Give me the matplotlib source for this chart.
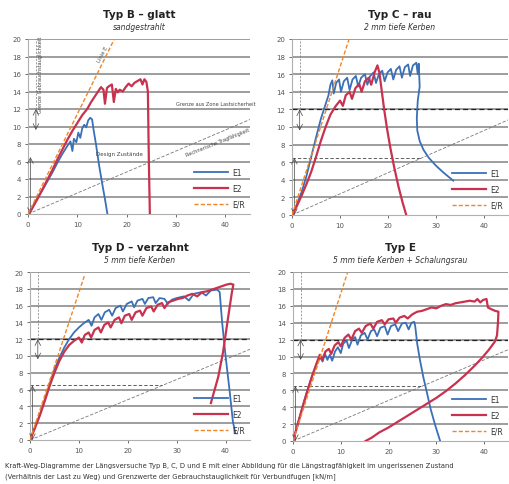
import matplotlib
matplotlib.use("Agg")
import matplotlib.pyplot as plt
import numpy as np

# ---------------- data ----------------
x_ticks = [0, 10, 20, 30, 40]
y_ticks = [0, 2, 4, 6, 8, 10, 12, 14, 16, 18, 20]
series_labels = ["E1", "E2", "E/R"]

titles = ["Typ B \u2013 glatt", "Typ C \u2013 rau", "Typ D \u2013 verzahnt", "Typ E"]
subtitles = ["sandgestrahlt", "2 mm tiefe Kerben", "5 mm tiefe Kerben",
             "5 mm tiefe Kerben + Schalungsrau"]

# Typ B
b_e1_x = [0, 1, 2, 3, 4, 5, 6, 7, 8, 8.6, 9, 9.3, 9.8, 10.2, 10.6, 11, 11.4, 11.8, 12.2, 12.6, 13, 13.3, 13.8, 14.4, 15, 15.6, 16.1]
b_e1_y = [0, 0.9, 1.9, 2.8, 3.8, 4.8, 5.9, 6.9, 7.8, 8.3, 7.2, 8.6, 8.2, 9.3, 8.7, 9.8, 10.2, 9.9, 10.7, 11.0, 10.8, 9.6, 7.9, 5.6, 3.6, 1.7, 0]
b_e2_x = [0, 1, 2, 3, 4, 5, 6, 7, 8, 9, 10, 11, 12, 12.8, 13.5, 14.2, 14.8, 15.3, 15.6, 16.0, 16.4, 17.0, 17.4, 17.8, 18.2, 18.6, 19.2, 19.8, 20.4, 21.0, 21.6, 22.2, 22.8, 23.2, 23.6, 24.0, 24.3, 24.5, 24.7]
b_e2_y = [0, 0.8, 1.8, 2.9, 4.0, 5.1, 6.3, 7.4, 8.5, 9.5, 10.4, 11.3, 12.0, 12.8, 13.4, 14.0, 14.5, 14.2, 12.6, 14.4, 14.6, 14.8, 12.8, 14.3, 13.9, 14.2, 14.0, 14.5, 14.9, 14.6, 15.0, 15.2, 15.4, 14.8, 15.4, 15.1, 14.0, 6.0, 0]
b_er_x = [0, 17.5]
b_er_y = [0, 20]

# Typ C
c_e1_x = [0, 1, 2, 3, 4, 5, 6, 7, 7.6, 8.0, 8.4, 8.7, 9.2, 9.8, 10.2, 10.8, 11.5, 12.0, 12.6, 13.3, 13.8, 14.4, 15.2, 15.7, 16.3, 17.0, 17.5, 18.1, 18.8, 19.3, 19.9, 20.6, 21.1, 21.7, 22.4, 22.9, 23.5, 24.2, 24.6, 25.2, 25.9, 26.2, 26.4, 26.6, 26.2, 26.0, 26.1, 26.6, 27.4, 28.5, 30.0, 31.6, 33.6]
c_e1_y = [0, 1.2, 2.6, 4.4, 6.6, 8.8, 10.9, 12.6, 13.6, 14.8, 15.3, 13.8, 15.0, 15.4, 14.0, 15.2, 15.6, 14.2, 15.4, 15.8, 14.6, 15.6, 16.0, 14.8, 15.8, 16.2, 15.0, 16.0, 16.4, 15.2, 16.2, 16.6, 15.4, 16.5, 16.9, 15.6, 16.8, 17.1, 15.8, 17.0, 17.3, 16.0, 17.2, 14.6, 13.0, 11.0, 9.6, 8.4, 7.4, 6.5, 5.6, 4.8, 3.9]
c_e2_x = [0, 1, 2, 3, 4, 5, 6, 7, 8, 9, 10, 10.6, 11.2, 12, 12.5, 13.2, 14, 14.5, 15.2, 16, 16.5, 17.2, 17.8, 18.2, 18.6, 19.2, 19.8, 20.5, 21.3, 22.2, 23.0, 23.8]
c_e2_y = [0, 1.0, 2.2, 3.5, 4.9, 6.6, 8.4, 10.0, 11.4, 12.3, 13.0, 12.4, 13.6, 14.0, 13.2, 14.4, 14.9, 14.0, 15.2, 15.6, 14.8, 16.2, 17.0, 16.2, 14.5, 12.0, 9.8, 7.6, 5.4, 3.2, 1.5, 0]
c_er_x = [0, 11.9]
c_er_y = [0, 20]

# Typ D
d_e1_x = [0, 1, 2, 3, 4, 5, 6, 7, 8, 9, 10, 11, 12, 12.6, 13.2, 14, 14.6, 15.3, 16.2, 16.8, 17.5, 18.5, 19.0, 19.8, 20.8, 21.3, 22.0, 23.0, 23.5, 24.2, 25.2, 25.7, 26.5, 27.5, 28.2, 29.0, 30.0, 31.5, 32.5, 33.5, 35, 36, 37, 38.3, 38.8, 39.3, 40, 40.8, 41.5, 42.0]
d_e1_y = [0, 1.5, 3.0, 4.8, 6.6, 8.4, 9.8, 11.0, 12.0, 12.8, 13.4, 13.9, 14.3, 13.6, 14.6, 15.0, 14.3, 15.2, 15.5, 14.8, 15.7, 16.0, 15.3, 16.2, 16.5, 15.8, 16.6, 16.8, 16.2, 16.9, 17.0, 16.3, 16.9, 16.8, 16.2, 16.7, 16.9, 17.1, 16.6, 17.4, 17.6, 17.2, 17.8, 17.9, 17.6, 14.0, 10.0, 6.0, 2.2, 0.8]
d_e2_x = [0, 1, 2, 3, 4, 5, 6, 7, 8, 9, 10, 10.6, 11.2, 12, 12.5, 13.2, 14, 14.5, 15.2, 16, 16.5, 17.3, 18.2, 18.7, 19.4, 20.3, 20.8, 21.6, 22.5, 23.0, 23.8, 24.8, 25.3, 26.1, 27.0, 27.5, 28.3, 29.3, 30.3, 31.2, 32.2, 33.2, 34.2, 35.2, 36.2, 37.2, 38.2, 39.2, 40.2, 41.0, 41.6, 41.3, 40.5, 39.5, 38.5, 37.0]
d_e2_y = [0, 1.4, 2.9, 4.6, 6.4, 8.0, 9.4, 10.5, 11.3, 11.8, 12.2, 11.6, 12.5, 12.8, 12.2, 13.1, 13.4, 12.8, 13.7, 14.0, 13.4, 14.3, 14.6, 13.9, 14.8, 15.0, 14.3, 15.2, 15.4, 14.8, 15.7, 15.9, 15.3, 16.1, 16.3, 15.7, 16.4, 16.6, 16.8, 16.9, 17.2, 17.4, 17.1, 17.6, 17.7, 17.9, 18.1, 18.3, 18.5, 18.6, 18.5, 17.6, 14.5, 10.5, 7.5, 4.4]
d_er_x = [0, 11.1]
d_er_y = [0, 19.5]

# Typ E
e_e1_x = [0, 1, 2, 3, 4, 5, 5.7, 6.2, 6.7, 7.2, 7.7, 8.2, 8.8, 9.4, 10, 10.5, 11.2, 11.7, 12.4, 13.0, 13.5, 14.2, 15.0, 15.6, 16.3, 17.0, 17.6, 18.3, 19.2, 19.8, 20.5, 21.4, 22.0, 22.8, 23.6, 24.2, 24.8, 25.4, 25.6, 26.0, 26.6, 27.3, 28.0, 28.8, 29.8, 30.8]
e_e1_y = [0, 2.0, 4.1, 6.0, 7.7, 9.2, 9.9, 9.4, 10.3, 9.6, 10.2, 9.5, 10.6, 11.1, 10.4, 11.5, 11.9, 11.0, 12.0, 12.3, 11.4, 12.5, 12.8, 12.0, 13.0, 13.2, 12.4, 13.4, 13.6, 12.6, 13.6, 13.8, 13.0, 13.9, 14.0, 13.2, 14.0, 14.1, 13.5, 11.5, 9.5, 7.5, 5.8, 3.8, 1.8, 0]
e_e2_x = [0, 1, 2, 3, 4, 5, 5.6, 6.1, 6.8, 7.5, 8.0, 8.7, 9.5, 10.0, 10.8, 11.6, 12.2, 13.0, 13.8, 14.4, 15.2, 16.2, 16.8, 17.6, 18.6, 19.2, 20.0, 21.0, 21.5, 22.3, 23.3, 24.0, 25.0, 26.0, 27.0, 28.0, 29.0, 30.0, 31.0, 32.0, 33.0, 34.0, 35.0, 36.0, 37.0, 38.0, 38.6, 39.2, 39.8, 40.5, 40.8, 41.5, 42.3, 43.0, 42.9, 42.7, 42.3, 41.0, 39.5, 38.0, 36.0, 34.0, 32.0, 30.0, 28.0, 26.0, 24.0, 22.0, 20.0, 18.0, 16.5, 15.2]
e_e2_y = [0, 2.0, 4.0, 5.9, 7.7, 9.3, 10.2, 9.6, 10.6, 10.9, 10.3, 11.3, 11.7, 11.2, 12.2, 12.6, 12.0, 13.0, 13.3, 12.8, 13.6, 13.9, 13.3, 14.1, 14.3, 13.8, 14.4, 14.5, 14.0, 14.6, 14.8, 14.5, 15.0, 15.3, 15.4, 15.6, 15.8, 15.7, 16.0, 16.2, 16.1, 16.3, 16.4, 16.5, 16.6, 16.5, 16.8, 16.4, 16.7, 16.8, 15.8, 15.6, 15.4, 15.3, 14.0, 12.5, 11.8, 10.8, 9.8, 8.9, 7.8, 6.8, 5.9, 5.1, 4.4, 3.7, 3.0, 2.3, 1.6, 1.0, 0.4, 0]
e_er_x = [0, 11.4]
e_er_y = [0, 19.9]

# reference lines (same in all panels)
ref_diag_x = [0, 45]
ref_diag_y = [0, 10.8]
limit_upper = 12
limit_lower = 6.5

# ---------------- style ----------------
BLUE = "#3b6fb6"
RED = "#c8324e"
ORANGE = "#f0862a"
GRID = "#959595"

fig = plt.figure(figsize=(5.10, 4.85), dpi=100)
W, H = 510, 485

def ax_at(x0, y0, x1, y1):
    return fig.add_axes([x0 / W, 1 - y1 / H, (x1 - x0) / W, (y1 - y0) / H])

axes = [ax_at(28, 40, 250, 215), ax_at(292, 40, 508, 216),
        ax_at(30, 273, 250, 441), ax_at(293, 273, 508, 442)]

panels = [
    (b_e1_x, b_e1_y, b_e2_x, b_e2_y, b_er_x, b_er_y),
    (c_e1_x, c_e1_y, c_e2_x, c_e2_y, c_er_x, c_er_y),
    (d_e1_x, d_e1_y, d_e2_x, d_e2_y, d_er_x, d_er_y),
    (e_e1_x, e_e1_y, e_e2_x, e_e2_y, e_er_x, e_er_y),
]

for i, (ax, p) in enumerate(zip(axes, panels)):
    e1x, e1y, e2x, e2y, erx, ery = p
    ax.set_xlim(0, 45)
    ax.set_ylim(0, 20)
    ax.set_xticks(x_ticks)
    ax.set_yticks(y_ticks)
    ax.set_xticklabels([str(t) for t in x_ticks])
    ax.set_yticklabels([str(t) for t in y_ticks])
    ax.tick_params(labelsize=5, colors="#555555", length=2, width=0.6, pad=3)
    for s in ["top", "right"]:
        ax.spines[s].set_visible(False)
    for s in ["left", "bottom"]:
        ax.spines[s].set_color("#b0b0b0")
        ax.spines[s].set_linewidth(0.8)
    for yv in y_ticks[1:]:
        ax.axhline(yv, color=GRID, lw=1.3, zorder=0.5)
    # reference lines
    ax.plot(ref_diag_x, ref_diag_y, color="#777777", lw=0.6, ls=(0, (4, 2)), zorder=1)
    if i > 0:
        ax.axhline(limit_upper, color="#222222", lw=0.9, ls=(0, (4, 2.5)), zorder=1.5)
        ax.plot([0, 27], [limit_lower, limit_lower], color="#444444", lw=0.6, ls=(0, (4, 2.5)), zorder=1.5)
    ax.plot([1.6, 1.6], [limit_upper, 20], color="#777777", lw=0.5, ls=(0, (3, 2)), zorder=1.5)
    ax.annotate("", xy=(1.6, limit_upper), xytext=(1.6, 9.6),
                arrowprops=dict(arrowstyle="<->", color="#444444", lw=0.5, shrinkA=0, shrinkB=0))
    ax.annotate("", xy=(0.5, 0), xytext=(0.5, limit_lower),
                arrowprops=dict(arrowstyle="<->", color="#444444", lw=0.5, shrinkA=0, shrinkB=0))

    l1, = ax.plot(e1x, e1y, color=BLUE, lw=1.3, zorder=3)
    l2, = ax.plot(e2x, e2y, color=RED, lw=1.6, zorder=3.2)
    l3, = ax.plot(erx, ery, color=ORANGE, lw=1.0, ls=(0, (3, 1.5)), zorder=3.5)
    leg = ax.legend([l1, l2, l3], series_labels, loc="lower right", frameon=False,
                    fontsize=5.5, handlelength=4.5, labelspacing=0.9,
                    borderaxespad=0.3, handletextpad=0.5)
    for t in leg.get_texts():
        t.set_color("#333333")

    cx = (ax.get_position().x0 + ax.get_position().x1) / 2
    ytop = ax.get_position().y1
    fig.text(cx, ytop + 0.052, titles[i], ha="center", va="center", fontsize=7.5,
             fontweight="bold", color="#222222")
    fig.text(cx, ytop + 0.025, subtitles[i], ha="center", va="center", fontsize=5.5,
             style="italic", color="#333333")

# annotations in Typ B
a0 = axes[0]
a0.text(2.6, 16, "Grenze Gebrauchstauglichkeit", rotation=90, fontsize=3.6,
        color="#444444", ha="center", va="center")
a0.text(15.2, 18.3, "Linie E", rotation=62, fontsize=3.8, color="#555555",
        ha="center", va="center")
a0.text(38, 12.3, "Grenze aus Zone Lastsicherheit", fontsize=3.6, color="#444444",
        ha="center", va="bottom")
a0.text(18.5, 6.9, "Design Zustände", fontsize=4, color="#444444",
        ha="center", va="center")
a0.text(38.5, 8.2, "Rechnerische Tragfähigkeit", rotation=22, fontsize=3.6,
        color="#444444", ha="center", va="center")

fig.text(0.01, 1 - 466 / H, "Kraft-Weg-Diagramme der Längsversuche Typ B, C, D und E mit einer Abbildung für die Längstragfähigkeit im ungerissenen Zustand",
         fontsize=4.9, color="#333333", ha="left", va="center")
fig.text(0.01, 1 - 477 / H, "(Verhältnis der Last zu Weg) und Grenzwerte der Gebrauchstauglichkeit für Verbundfugen [kN/m]",
         fontsize=4.9, color="#333333", ha="left", va="center")

fig.savefig("out.png", dpi=100)
